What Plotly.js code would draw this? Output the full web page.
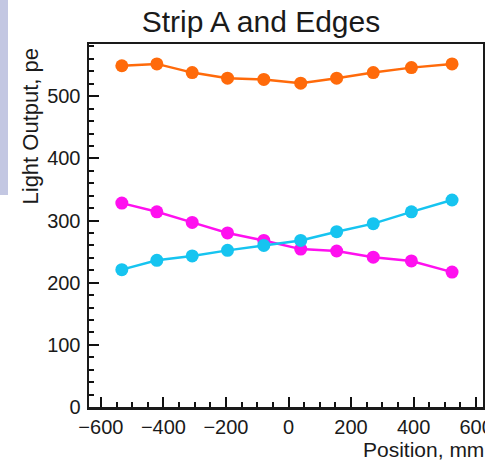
<!DOCTYPE html>
<html>
<head>
<meta charset="utf-8">
<script src="https://cdn.plot.ly/plotly-3.0.1.min.js"></script>
<style>
  html, body { margin: 0; padding: 0; background: #ffffff; overflow: hidden; }
  #chart { width: 485px; height: 462px; position: relative; }
  #strip { position: absolute; left: 0; top: 0; width: 8px; height: 195px; background: #c3c7e2; z-index: 5; }
</style>
</head>
<body>
<div id="strip"></div>
<div id="chart"></div>
<script>
// Positions (mm)
const positions = [-533, -421, -308, -195, -79, 39, 154, 271, 393, 523];
// Light output (pe)
const stripA = [549, 552, 538, 529, 527, 521, 529, 538, 546, 552];
const edgeLeft = [328, 314, 297, 280, 268, 254, 251, 241, 235, 217];
const edgeRight = [221, 236, 243, 252, 260, 268, 282, 295, 314, 333];

const titleText = "Strip A and Edges";
const xTitle = "Position, mm";
const yTitle = "Light Output, pe";

const FONT = "Liberation Sans, Arial, Helvetica, sans-serif";

function series(y, color) {
  return {
    x: positions, y: y, type: 'scatter', mode: 'lines+markers',
    line: { color: color, width: 2.5 },
    marker: { color: color, size: 13, symbol: 'circle' },
    showlegend: false, hoverinfo: 'x+y'
  };
}

const data = [
  series(stripA, '#ff6a0a'),
  series(edgeLeft, '#ff10ef'),
  series(edgeRight, '#16c4f0')
];

const layout = {
  width: 485, height: 462,
  margin: { l: 89, r: 2, t: 44, b: 55 },
  paper_bgcolor: 'rgba(0,0,0,0)', plot_bgcolor: '#ffffff',
  font: { family: FONT, color: '#1a1a1a', size: 20 },
  title: { text: titleText, font: { family: FONT, size: 30, color: '#1a1a1a' },
           x: 261/485, xanchor: 'center', xref: 'container',
           y: 1 - 21/462, yanchor: 'middle', yref: 'container' },
  xaxis: {
    range: [-638, 622], dtick: 200, tick0: 0,
    ticks: 'inside', ticklen: 10, tickwidth: 2, tickcolor: '#111',
    minor: { dtick: 50, ticks: 'inside', ticklen: 5, tickwidth: 2, tickcolor: '#111' },
    showline: true, linecolor: '#1a1a1a', linewidth: 2.5, mirror: true,
    showgrid: false, zeroline: false,
    tickfont: { family: FONT, size: 20, color: '#1a1a1a' },
    ticklabeloverflow: 'allow',
    fixedrange: true
  },
  yaxis: {
    range: [0, 584], dtick: 100, tick0: 0,
    ticks: 'inside', ticklen: 10, tickwidth: 2, tickcolor: '#111',
    minor: { dtick: 20, ticks: 'inside', ticklen: 5, tickwidth: 2, tickcolor: '#111' },
    showline: true, linecolor: '#1a1a1a', linewidth: 2.5, mirror: true,
    showgrid: false, zeroline: false,
    tickfont: { family: FONT, size: 20, color: '#1a1a1a' },
    ticklabelstandoff: 2,
    fixedrange: true
  },
  annotations: [
    { text: xTitle, xref: 'paper', yref: 'paper', x: (486 - 89) / 394, y: (407.5 - 450) / 363.5,
      xanchor: 'right', yanchor: 'middle', showarrow: false,
      font: { family: FONT, size: 21, color: '#1a1a1a' } },
    { text: yTitle, xref: 'paper', yref: 'paper', x: (30 - 89) / 394, y: 1 - 2 / 363.5,
      xanchor: 'center', yanchor: 'top', textangle: -90, showarrow: false,
      font: { family: FONT, size: 22, color: '#1a1a1a' } }
  ]
};

Plotly.newPlot('chart', data, layout, { displayModeBar: false, staticPlot: true });
</script>
</body>
</html>
